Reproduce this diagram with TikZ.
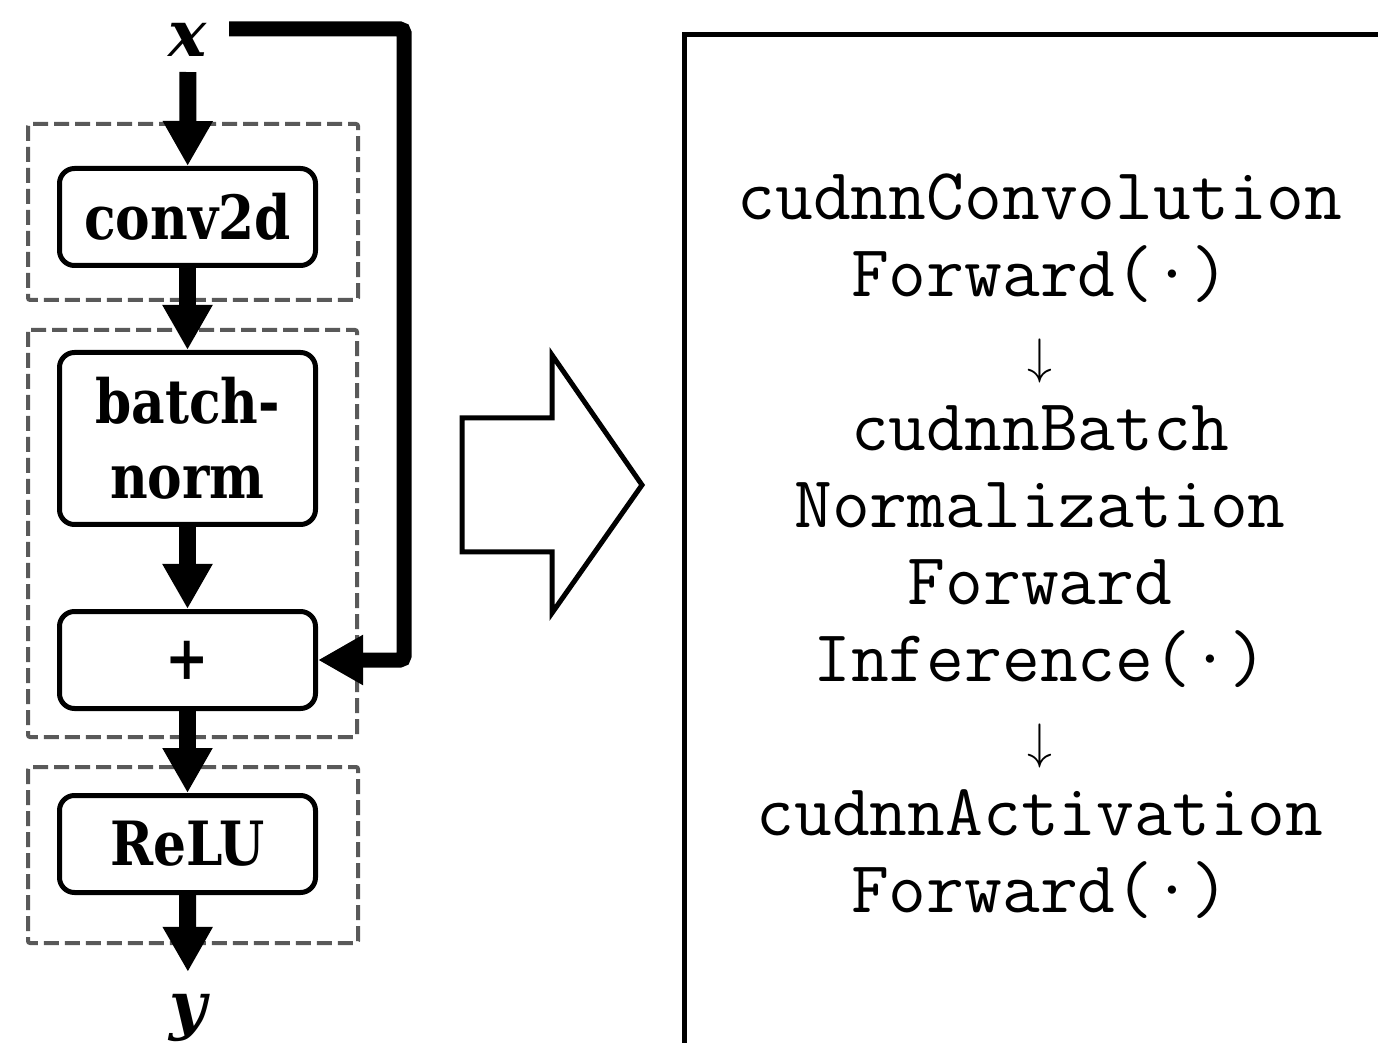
\documentclass[tikz,border=0pt]{standalone}
\usepackage{fontspec}
\setmainfont{DejaVu Serif}
\newfontfamily\layerfont[FakeStretch=0.85]{DejaVu Serif}
\usetikzlibrary{positioning}
\usetikzlibrary{arrows.meta}
\tikzstyle{layer} = [rectangle, draw=black, fill=white, line width=2.5pt,
rounded corners=7.5pt, minimum width=128pt, minimum height=48.5pt, align=center,
font=\layerfont\fontsize{30.5}{37.5}\selectfont\bfseries, node distance=41pt]
\tikzstyle{var} = [inner sep=0pt, font=\fontsize{32}{32}\selectfont\bfseries\itshape]
\tikzstyle{group} = [draw=black!65, line width=2pt, dash pattern=on 7.5pt off 3pt,
rounded corners=1pt]
\tikzstyle{flow} = [line width=8.5pt]
\tikzstyle{calls} = [rectangle, draw=black, line width=2.5pt, minimum width=356pt,
minimum height=511.5pt, align=center, font=\ttfamily\fontsize{36.7}{38.5}\selectfont]
\tikzset{>={Triangle[width=23.5pt,length=22.5pt]}}
\newcommand{\feed}[3][]{ %
  % Thick arrow from all nodes #2 to all nodes #3.
  \foreach \x in {#2} { %
    \foreach \y in {#3} { %
      \path (\x) edge [->,flow,#1] (\y) ;%
    } ;
  } ;
}
\newcommand{\dn}{$\downarrow$}

\begin{document}
\begin{tikzpicture}[x=0.5pt,y=-0.5pt]
				\useasboundingbox (0,0) rectangle (1378,1043);

				% dashed groups behind the layers
				\draw[group] (28,124) rectangle (358,300);
				\draw[group] (28,330) rectangle (357,737);
				\draw[group] (28,767) rectangle (358,943);

				\node[var] (x) at (188,40) {x} ; %
				\node[layer] (conv) at (187.5,217) {conv2d} ; %
				\node[layer, below=of conv, minimum height=86pt] (bn) {batch-\\norm} ; %
				\node[layer, below=of bn] (add) {+} ; %
				\node[layer, below=of add] (relu) {ReLU} ; %
				\node[var] (y) at (188,1018) {y} ; %

				\feed[shorten <=7.5pt] {x} {conv};
				\feed {conv} {bn};
				\feed {bn} {add};
				\feed {add} {relu};
				\feed[shorten >=11pt] {relu} {y};

				% identity shortcut
				\coordinate (skipstart) at (229,29);
				\coordinate (skipturn) at (404,29);
				\draw[->, flow, line width=7.5pt, rounded corners=2pt] (skipstart) -- (skipturn) |- (add);

				% fused kernel arrow
				\draw[line width=2.5pt, miter limit=20] (462,418) -- (552,418) -- (552,355) -- (642,485)
					-- (552,613) -- (552,552) -- (462,552) -- cycle;

				\node[calls] (calls) at (1040,546) {cudnnConvolution\\Forward(·)\\\dn\\cudnnBatch\\Normalization\\Forward\\Inference(·)\\\dn\\cudnnActivation\\Forward(·)} ; %
            \end{tikzpicture}
\end{document}
